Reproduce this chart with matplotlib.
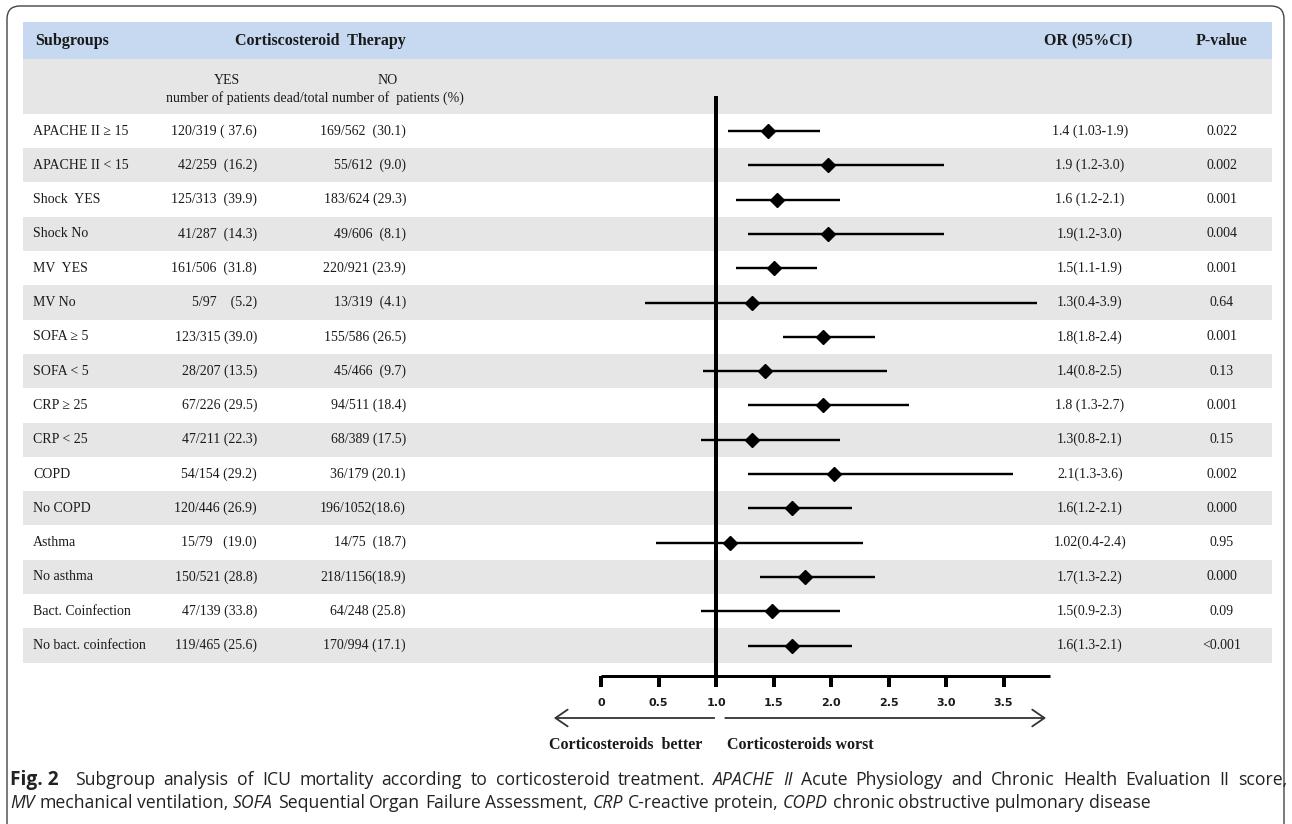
import matplotlib
matplotlib.use("Agg")
import matplotlib.pyplot as plt
from matplotlib.patches import FancyBboxPatch, Rectangle

# ---------------- data ----------------
subgroups = ["APACHE II ≥ 15", "APACHE II < 15", "Shock  YES", "Shock No", "MV  YES", "MV No",
             "SOFA ≥ 5", "SOFA < 5", "CRP ≥ 25", "CRP < 25", "COPD", "No COPD", "Asthma",
             "No asthma", "Bact. Coinfection", "No bact. coinfection"]
yes_counts = ["120/319 ( 37.6)", "42/259  (16.2)", "125/313  (39.9)", "41/287  (14.3)",
              "161/506  (31.8)", "5/97    (5.2)", "123/315 (39.0)", "28/207 (13.5)",
              "67/226 (29.5)", "47/211 (22.3)", "54/154 (29.2)", "120/446 (26.9)",
              "15/79   (19.0)", "150/521 (28.8)", "47/139 (33.8)", "119/465 (25.6)"]
no_counts = ["169/562  (30.1)", "55/612  (9.0)", "183/624 (29.3)", "49/606  (8.1)",
             "220/921 (23.9)", "13/319  (4.1)", "155/586 (26.5)", "45/466  (9.7)",
             "94/511 (18.4)", "68/389 (17.5)", "36/179 (20.1)", "196/1052(18.6)",
             "14/75  (18.7)", "218/1156(18.9)", "64/248 (25.8)", "170/994 (17.1)"]
or_labels = ["1.4 (1.03-1.9)", "1.9 (1.2-3.0)", "1.6 (1.2-2.1)", "1.9(1.2-3.0)",
             "1.5(1.1-1.9)", "1.3(0.4-3.9)", "1.8(1.8-2.4)", "1.4(0.8-2.5)",
             "1.8 (1.3-2.7)", "1.3(0.8-2.1)", "2.1(1.3-3.6)", "1.6(1.2-2.1)",
             "1.02(0.4-2.4)", "1.7(1.3-2.2)", "1.5(0.9-2.3)", "1.6(1.3-2.1)"]
p_values = ["0.022", "0.002", "0.001", "0.004", "0.001", "0.64", "0.001", "0.13",
            "0.001", "0.15", "0.002", "0.000", "0.95", "0.000", "0.09", "<0.001"]
# plotted positions (as drawn in the figure)
or_point = [1.45, 1.97, 1.53, 1.97, 1.505, 1.31, 1.93, 1.43, 1.93, 1.31, 2.03, 1.66, 1.12, 1.77, 1.49, 1.66]
ci_low = [1.10, 1.28, 1.175, 1.28, 1.175, 0.38, 1.58, 0.885, 1.28, 0.873, 1.28, 1.28, 0.477, 1.38, 0.873, 1.28]
ci_high = [1.90, 2.98, 2.08, 2.98, 1.88, 3.79, 2.38, 2.485, 2.68, 2.08, 3.58, 2.18, 2.28, 2.38, 2.08, 2.18]
xticks = [0, 0.5, 1.0, 1.5, 2.0, 2.5, 3.0, 3.5]
xtick_labels = ["0", "0.5", "1.0", "1.5", "2.0", "2.5", "3.0", "3.5"]

caption_line1 = [("Fig. 2", "b"),
                 ("Subgroup analysis of ICU mortality according to corticosteroid treatment.", "n"),
                 ("APACHE II", "i"), ("Acute Physiology and Chronic Health Evaluation II score,", "n")]
caption_line2 = [("MV", "i"), ("mechanical ventilation,", "n"), ("SOFA", "i"),
                 ("Sequential Organ Failure Assessment,", "n"), ("CRP", "i"), ("C-reactive protein,", "n"),
                 ("COPD", "i"), ("chronic obstructive pulmonary disease", "n")]

# ---------------- layout ----------------
W, H, DPI = 1292, 824, 100
PX = 72.0 / DPI
fig = plt.figure(figsize=(W / DPI, H / DPI), dpi=DPI)
SERIF = "Liberation Serif"
INK = "#1a1a1a"

bg = fig.add_axes([0, 0, 1, 1])
bg.set_xlim(0, W)
bg.set_ylim(H, 0)
bg.axis("off")

bg.add_patch(FancyBboxPatch((7, 6), W - 8 - 7, H + 30,
                            boxstyle="round,pad=0,rounding_size=13",
                            fc="white", ec="#444444", lw=1.0))

TL, TR = 23, 1272
ROW0, ROWH = 131.0, 34.3
n = len(subgroups)
bg.add_patch(Rectangle((TL, 22), TR - TL, 37, color="#c6d9f0", lw=0))
bg.add_patch(Rectangle((TL, 59), TR - TL, ROW0 - ROWH / 2 - 59, color="#e6e6e6", lw=0))
for i in range(n):
    yc = ROW0 + ROWH * i
    if i % 2 == 1:
        bg.add_patch(Rectangle((TL, yc - ROWH / 2), TR - TL, ROWH, color="#e6e6e6", lw=0))
    kw = dict(va="center", fontsize=10, family=SERIF, color=INK)
    bg.text(33, yc, subgroups[i], ha="left", **kw)
    bg.text(257, yc, yes_counts[i], ha="right", **kw)
    bg.text(406, yc, no_counts[i], ha="right", **kw)
    bg.text(1090, yc, or_labels[i], ha="center", **kw)
    bg.text(1222, yc, p_values[i], ha="center", **kw)

hk = dict(va="center", fontsize=11.5, family=SERIF, weight="bold", color=INK)
bg.text(35, 41, "Subgroups", ha="left", **hk)
bg.text(320, 41, "Cortiscosteroid  Therapy", ha="center", **hk)
bg.text(1088, 41, "OR (95%CI)", ha="center", **hk)
bg.text(1222, 41, "P-value", ha="center", **hk)
sk = dict(va="center", fontsize=10, family=SERIF, color=INK)
bg.text(227, 80, "YES", ha="center", **sk)
bg.text(388, 80, "NO", ha="center", **sk)
bg.text(315, 98, "number of patients dead/total number of  patients (%)", ha="center", **sk)

# ---------------- forest axes ----------------
X0, UNIT = 601.0, 115.0
xmin, xmax = -0.5, 4.0
top_px = ROW0 - ROWH / 2
ax = fig.add_axes([(X0 + xmin * UNIT) / W, 1 - (top_px + n * ROWH) / H,
                   (xmax - xmin) * UNIT / W, n * ROWH / H])
ax.set_xlim(xmin, xmax)
ax.set_ylim(n - 0.5, -0.5)
ax.patch.set_alpha(0)
for s in ("top", "right", "left"):
    ax.spines[s].set_visible(False)
ax.set_yticks([])
axis_px = 676
ax.spines["bottom"].set_position(("outward", (axis_px - (top_px + n * ROWH)) * PX))
ax.spines["bottom"].set_bounds(0, 3.9)
ax.spines["bottom"].set_linewidth(3 * PX)
ax.spines["bottom"].set_capstyle("butt")
ax.set_xticks(xticks)
ax.set_xticklabels(xtick_labels, family="DejaVu Sans", weight="bold", fontsize=8, color=INK)
ax.tick_params(axis="x", direction="out", length=11 * PX, width=4 * PX, pad=8, color="black")

rows = list(range(n))
y_of = lambda px: (px - ROW0) / ROWH
ax.plot([1, 1], [y_of(96), y_of(axis_px)], color="black", lw=4 * PX,
        solid_capstyle="butt", clip_on=False, zorder=2)
ax.hlines(rows, ci_low, ci_high, color="black", lw=2.4 * PX, zorder=3)
ax.plot(or_point, rows, "D", ms=7.6, color="black", zorder=4, ls="none")

ya = y_of(718)
ap = dict(arrowstyle="->,head_length=0.8,head_width=0.55", lw=1.3, color="#333333",
          mutation_scale=11, shrinkA=0, shrinkB=0)
ax.annotate("", xy=(-0.41, ya), xytext=(0.985, ya), arrowprops=ap, annotation_clip=False)
ax.annotate("", xy=(3.87, ya), xytext=(1.08, ya), arrowprops=ap, annotation_clip=False)

bk = dict(va="center", fontsize=11.5, family=SERIF, weight="bold", color=INK)
bg.text(702, 745, "Corticosteroids  better", ha="right", **bk)
bg.text(727, 745, "Corticosteroids worst", ha="left", **bk)

# ---------------- caption (justified first line) ----------------
renderer = fig.canvas.get_renderer()
CAP = "Open Sans"


def style_kw(style, size):
    kw = dict(family=CAP, fontsize=size, va="baseline", ha="left", color="#222222")
    if style == "b":
        kw["weight"] = "bold"
        kw["fontsize"] = size * 1.08
    elif style == "i":
        kw["style"] = "italic"
    return kw


def text_width(s, style, size):
    t = bg.text(0, 0, s, **style_kw(style, size))
    w = t.get_window_extent(renderer).width
    t.remove()
    return w


def tokens(pieces):
    out = []
    for txt, style in pieces:
        words = [txt] if style == "b" else txt.split(" ")
        for k, w in enumerate(words):
            out.append((w, style, k == 0))
    return out


def layout(pieces, x, y, size, target=None, draw=True):
    toks = tokens(pieces)
    widths = [text_width(w, s, size) for w, s, _ in toks]
    space = text_width("a a", "n", size) - text_width("aa", "n", size)
    gaps = [2.0 if toks[k - 1][1] == "b" else 1.0 for k in range(1, len(toks))]
    if target is not None:
        space = (target - sum(widths)) / sum(gaps)
    if draw:
        for k, ((w, s, _), wd) in enumerate(zip(toks, widths)):
            bg.text(x, y, w, **style_kw(s, size))
            if k < len(gaps):
                x += wd + space * gaps[k]
    return sum(widths) + space * sum(gaps)


base = 10.0
w1 = layout(caption_line1, 10, 0, base, draw=False)
cap_size = base * (1205.0 / w1)
layout(caption_line1, 10, 785, cap_size, target=1277.0)
layout(caption_line2, 10, 808, cap_size)

fig.savefig("out.png", dpi=DPI)
